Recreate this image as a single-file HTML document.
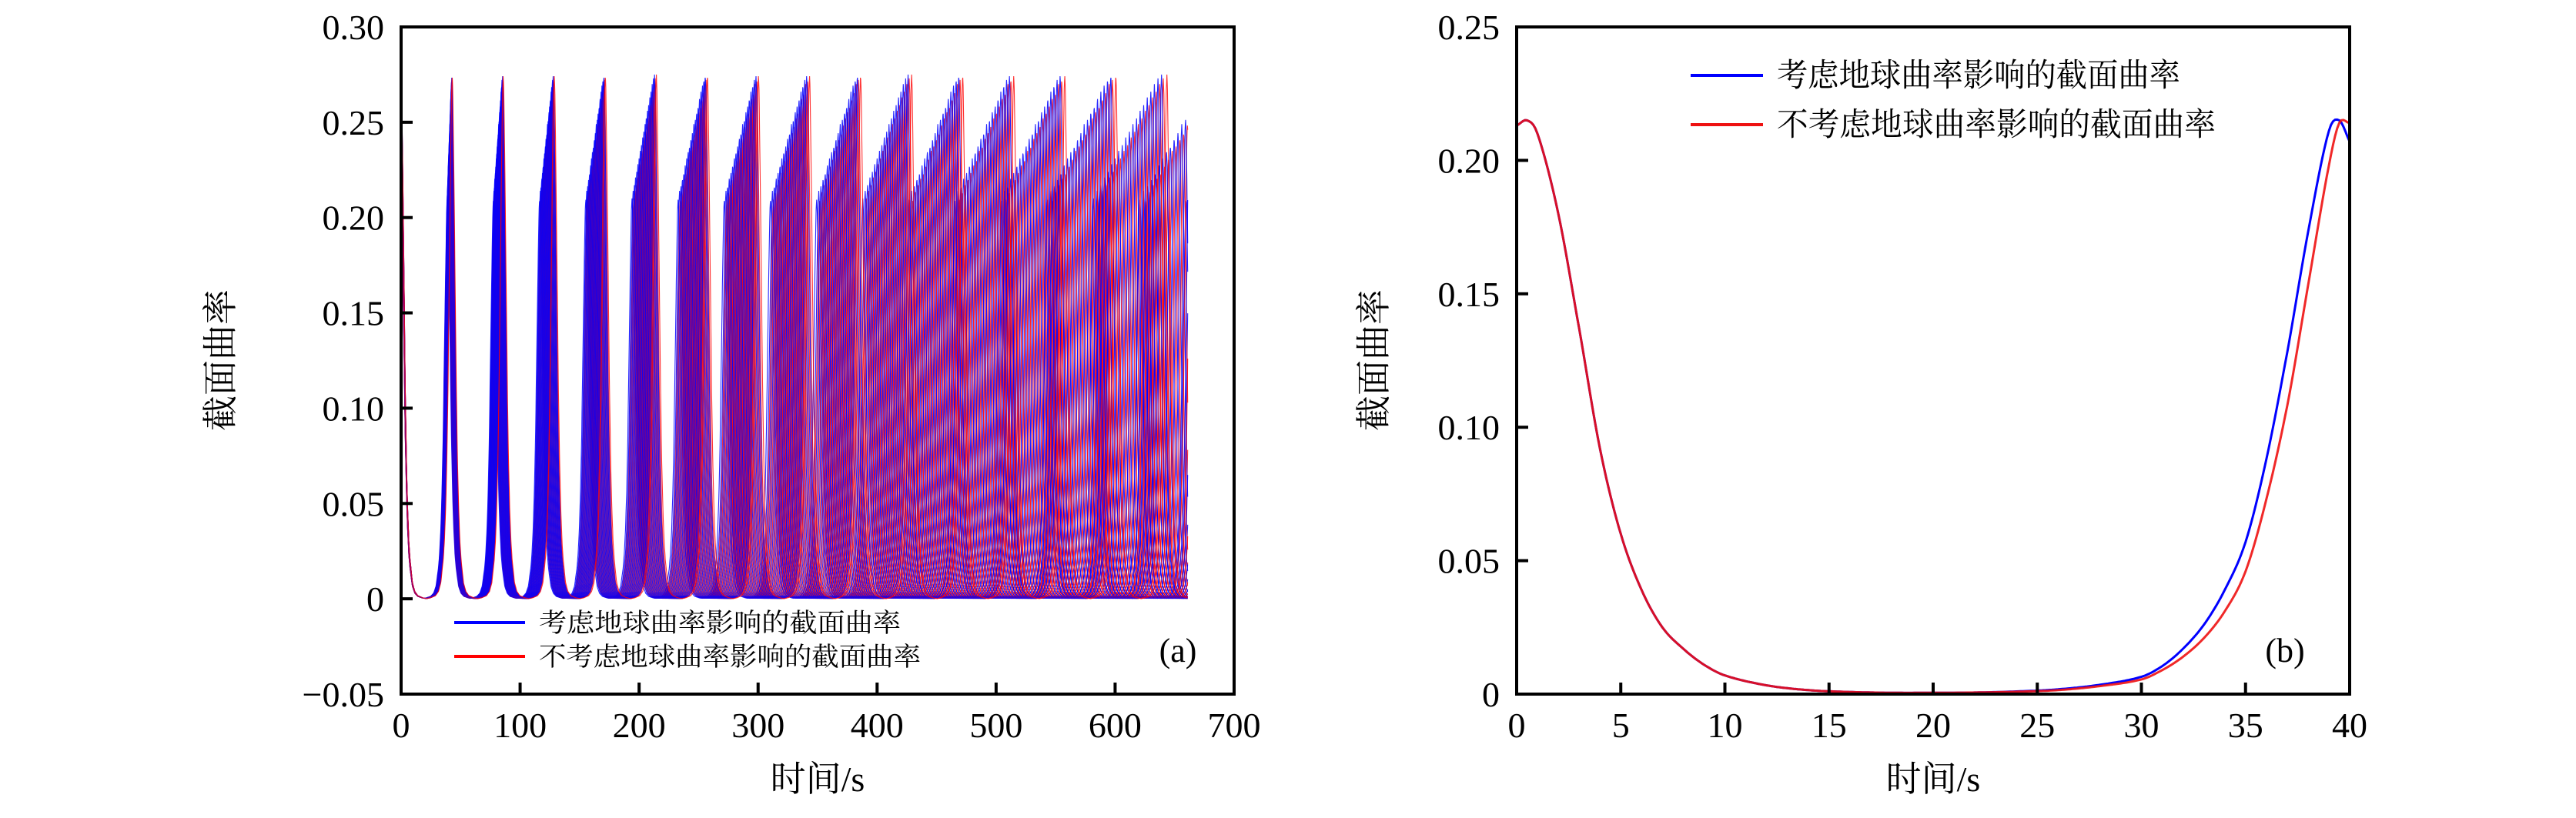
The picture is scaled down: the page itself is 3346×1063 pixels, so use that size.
<!DOCTYPE html>
<html><head><meta charset="utf-8"><style>
html,body{margin:0;padding:0;background:#fff;}
svg{display:block;}
text{font-family:"Liberation Serif","Noto Serif CJK SC","Noto Sans CJK SC",serif;fill:#000;}
</style></head><body>
<svg id="fig" width="3346" height="1063" viewBox="0 0 3346 1063" xmlns="http://www.w3.org/2000/svg">
<g id="chartA"></g>
<g id="chartB"></g>
</svg>
<script>
// ---------- Chart (a) data ----------
const aXTicks = [0,100,200,300,400,500,600,700];
const aYTicks = [-0.05,0,0.05,0.10,0.15,0.20,0.25,0.30];
const aYTickLabels = ["\u22120.05","0","0.05","0.10","0.15","0.20","0.25","0.30"];
const aEndTime = 661;
const bluePeriods = [38.8,39.0,39.2,39.4,39.6,39.8,40.0,40.2,40.4,40.6,40.8,41.0,41.2,41.4,41.6,41.8,42.0,42.2,42.4,42.6];
const blueHeights = [0.210,0.214,0.217,0.221,0.224,0.228,0.231,0.235,0.238,0.242,0.245,0.249,0.252,0.256,0.259,0.263,0.266,0.270,0.273,0.275];
const redPeriods = [39.1,39.3,39.5,39.7,39.9,40.1,40.3,40.5,40.7,40.9,41.1,41.3,41.5,41.7,41.9,42.1,42.3,42.5,42.7,42.9];
const redHeights = [0.210,0.214,0.217,0.221,0.224,0.228,0.231,0.235,0.238,0.242,0.245,0.249,0.252,0.256,0.259,0.263,0.266,0.270,0.273,0.275];
const shapeTau = [0,0.5,1.5,2.5,3.5,4.5,5.5,6.5,7.5,9.5,11.5,14,18,22];
const shapeVal = [1,0.97,0.8,0.6,0.4,0.26,0.17,0.11,0.075,0.031,0.014,0.006,0.002,0.0];

// ---------- Chart (b) data ----------
const bXTicks = [0,5,10,15,20,25,30,35,40];
const bYTicks = [0,0.05,0.10,0.15,0.20,0.25];
const bYTickLabels = ["0","0.05","0.10","0.15","0.20","0.25"];
const bTimes = [0,0.5,1,2,3,4,5,6,7,8,9,10,12,14,16,18,20,22,24,26,28,30,31,32,33,34,35,36,37,38,39,39.5,40];
const bRed = [0.213,0.215,0.21,0.18,0.137,0.092,0.06,0.039,0.025,0.017,0.011,0.007,0.0033,0.0015,0.0008,0.0005,0.0005,0.0006,0.0009,0.0015,0.003,0.0055,0.009,0.014,0.021,0.031,0.046,0.073,0.108,0.153,0.198,0.214,0.214];
const bBlue = [0.213,0.215,0.21,0.18,0.137,0.092,0.06,0.039,0.025,0.017,0.011,0.007,0.0033,0.0015,0.0008,0.0005,0.0005,0.0006,0.001,0.0018,0.0035,0.0065,0.0105,0.017,0.026,0.039,0.057,0.088,0.128,0.173,0.211,0.215,0.207];

const NS="http://www.w3.org/2000/svg";
function mk(parent,tag,attrs,text){const e=document.createElementNS(NS,tag);for(const k in attrs)e.setAttribute(k,attrs[k]);if(text!==undefined)e.textContent=text;parent.appendChild(e);return e;}

function drawAxes(g,L,R,T,B,xs,ys,xTicks,yTicks,yLabels){
  for(let i=0;i<yTicks.length;i++){
    const y=ys(yTicks[i]);
    const t=mk(g,'line',{x1:L,x2:L+15,y1:y,y2:y,stroke:'#000','stroke-width':4});
    
    
    const lb=mk(g,'text',{x:L-22,y:y+16,'font-size':46,'text-anchor':'end'},yLabels[i]);
    
    
  }
  for(let i=0;i<xTicks.length;i++){
    const x=xs(xTicks[i]);
    const t=mk(g,'line',{x1:x,x2:x,y1:B,y2:B-15,stroke:'#000','stroke-width':4});
    
    
    const lb=mk(g,'text',{x:x,y:B+56,'font-size':46,'text-anchor':'middle'},String(xTicks[i]));
    
    
  }
  const fr=mk(g,'rect',{x:L,y:T,width:R-L,height:B-T,fill:'none',stroke:'#000','stroke-width':4});
  
  
}
function interp(xa,ya,x){
  if(x<=xa[0])return ya[0];
  for(let i=1;i<xa.length;i++){if(x<=xa[i]){const f=(x-xa[i-1])/(xa[i]-xa[i-1]);return ya[i-1]+f*(ya[i]-ya[i-1]);}}
  return ya[ya.length-1];
}
function catmull(xa,ya,x){
  let i=1;while(i<xa.length-1&&x>xa[i])i++;
  const i0=Math.max(i-2,0),i1=i-1,i2=i,i3=Math.min(i+1,xa.length-1);
  const t=(x-xa[i1])/(xa[i2]-xa[i1]);
  const m1=(ya[i2]-ya[i0])/(xa[i2]-xa[i0])*(xa[i2]-xa[i1]);
  const m2=(ya[i3]-ya[i1])/(xa[i3]-xa[i1])*(xa[i2]-xa[i1]);
  const t2=t*t,t3=t2*t;
  return (2*t3-3*t2+1)*ya[i1]+(t3-2*t2+t)*m1+(-2*t3+3*t2)*ya[i2]+(t3-t2)*m2;
}

// ---------- Chart (a) ----------
(function(){
  const g=document.getElementById('chartA');
  const L=521,R=1603,T=35,B=902;
  const xs=v=>L+(v-0)/(700-0)*(R-L);
  const ys=v=>B-(v-(-0.05))/(0.30-(-0.05))*(B-T);
  const curves=mk(g,'g',{});
  
  
  function curvePath(P,h){
    let d='';
    for(let t=0;t<=aEndTime+1e-9;t+=0.25){
      const k=Math.round(t/P);const tau=Math.abs(t-k*P);
      const v=h*interp(shapeTau,shapeVal,tau);
      d+=(d?'L':'M')+xs(t).toFixed(1)+' '+ys(v).toFixed(1);
    }
    return d;
  }
  for(let i=0;i<bluePeriods.length;i++){
    const pb=mk(curves,'path',{d:curvePath(bluePeriods[i],blueHeights[i]),fill:'none',stroke:'#0000ff','stroke-width':1.1,'stroke-opacity':0.85});
    
    
    const pr=mk(curves,'path',{d:curvePath(redPeriods[i],redHeights[i]),fill:'none',stroke:'#ff0000','stroke-width':1.1,'stroke-opacity':0.8});
    
    
  }
  drawAxes(g,L,R,T,B,xs,ys,aXTicks,aYTicks,aYTickLabels);
  const lg=mk(g,'g',{});
  
  
  mk(lg,'line',{x1:590,x2:682,y1:809,y2:809,stroke:'#0000ff','stroke-width':4});
  mk(lg,'line',{x1:590,x2:682,y1:853,y2:853,stroke:'#ff0000','stroke-width':4});
  const t1=mk(lg,'text',{x:700,y:821,'font-size':34,textLength:470,lengthAdjust:'spacingAndGlyphs'},'考虑地球曲率影响的截面曲率');
  
  
  const t2=mk(lg,'text',{x:700,y:865,'font-size':34,textLength:496,lengthAdjust:'spacingAndGlyphs'},'不考虑地球曲率影响的截面曲率');
  
  
  const pl=mk(g,'text',{x:1530,y:860,'font-size':44,'text-anchor':'middle'},'(a)');
  
  
  const xt=mk(g,'text',{x:1062,y:1028,'font-size':46,'text-anchor':'middle'},'时间/s');
  
  
  const yt=mk(g,'text',{x:0,y:0,'font-size':46,'text-anchor':'middle',transform:'translate(302,468) rotate(-90)'},'截面曲率');
  
  
})();

// ---------- Chart (b) ----------
(function(){
  const g=document.getElementById('chartB');
  const L=1970,R=3052,T=35,B=902;
  const xs=v=>L+(v-0)/(40-0)*(R-L);
  const ys=v=>B-(v-0)/(0.25-0)*(B-T);
  function path(vals){
    let d='';
    for(let t=0;t<=40+1e-9;t+=0.1){
      const v=catmull(bTimes,vals,t);
      d+=(d?'L':'M')+xs(t).toFixed(1)+' '+ys(v).toFixed(1);
    }
    return d;
  }
  const pb=mk(g,'path',{d:path(bBlue),fill:'none',stroke:'#0000ff','stroke-width':3});
  
  
  const pr=mk(g,'path',{d:path(bRed),fill:'none',stroke:'#ee1111','stroke-width':3,'stroke-opacity':0.9});
  
  
  drawAxes(g,L,R,T,B,xs,ys,bXTicks,bYTicks,bYTickLabels);
  const lg=mk(g,'g',{});
  
  
  mk(lg,'line',{x1:2196,x2:2290,y1:98,y2:98,stroke:'#0000ff','stroke-width':4});
  mk(lg,'line',{x1:2196,x2:2290,y1:162,y2:162,stroke:'#ee1111','stroke-width':4});
  const t1=mk(lg,'text',{x:2308,y:112,'font-size':42,textLength:524,lengthAdjust:'spacingAndGlyphs'},'考虑地球曲率影响的截面曲率');
  
  
  const t2=mk(lg,'text',{x:2308,y:176,'font-size':42,textLength:570,lengthAdjust:'spacingAndGlyphs'},'不考虑地球曲率影响的截面曲率');
  
  
  const pl=mk(g,'text',{x:2968,y:860,'font-size':44,'text-anchor':'middle'},'(b)');
  
  
  const xt=mk(g,'text',{x:2511,y:1028,'font-size':46,'text-anchor':'middle'},'时间/s');
  
  
  const yt=mk(g,'text',{x:0,y:0,'font-size':46,'text-anchor':'middle',transform:'translate(1800,468) rotate(-90)'},'截面曲率');
  
  
})();
</script>
</body></html>
